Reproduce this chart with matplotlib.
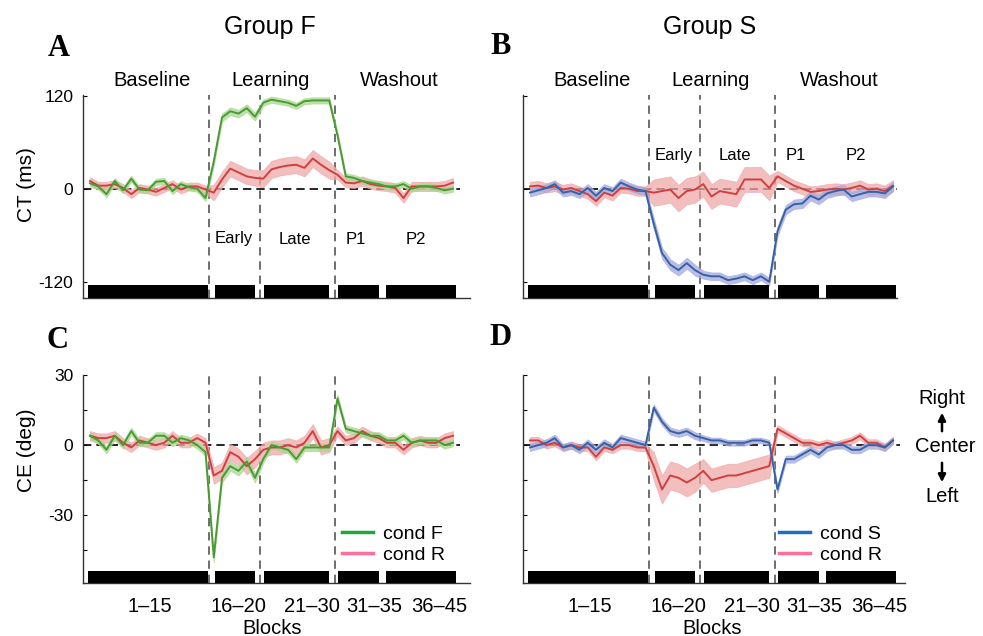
import matplotlib
matplotlib.use('Agg')
import matplotlib.pyplot as plt
import numpy as np

plt.rcParams['font.family'] = ['Liberation Sans', 'DejaVu Sans']

W, H = 983, 636

# ---- data ----
blocks = np.arange(1, 46)
phase_len = [15, 6, 9, 15]   # points in baseline / early / late / washout

ct_F_condF = [7, 3, -7, 10, -2, 13, -1, -2, 9, 10, -3, 6, 2, 0, -12,
              35, 92, 100, 97, 104, 93,
              111, 115, 113, 111, 107, 113, 114, 114, 114,
              69, 16, 14, 10, 8, 6, 3, 3, 6, 0, 3, 3, 1, -2, 0]
ct_F_condR = [10, 4, 4, 6, 1, -7, 1, -1, -4, 1, 6, -1, 3, 3, -1,
              -5, 12, 26, 21, 16, 14,
              13, 25, 28, 30, 31, 27, 39, 31, 24,
              18, 8, 7, 10, 6, 4, 3, 1, -12, 3, 3, 3, 3, 4, 8]
ct_S_condS = [-5, -2, 1, 6, -5, -3, -7, 1, -9, 1, -3, 8, 3, -1, -3,
              -45, -83, -98, -105, -96, -105,
              -111, -113, -113, -118, -116, -113, -118, -113, -120,
              -55, -27, -20, -19, -9, -14, -6, -3, -1, -10, -7, -4, -4, -6, 3]
ct_S_condR = [3, 4, 1, 3, -1, 1, -3, -7, -16, -5, -9, 1, 0, -3, -3,
              -5, -3, -1, -12, -3, -1,
              6, -10, -3, -5, -7, 12, 12, 12, 1,
              16, 10, 4, 0, -4, -3, -1, 0, -1, 1, 4, -1, 0, -3, 4]
ce_F_condF = [4, 2, -2, 4, 0, 6, 1, 1, 4, 4, 1, 3, 2, 0, -3,
              -48, -14, -9, -11, -7, -14,
              -6, 0, -1, -2, -6, -1, -1, -1, -1,
              20, 7, 6, 5, 4, 4, 2, 2, 4, 1, 2, 2, 2, 0, 1]
ce_F_condR = [4, 3, 3, 4, 1, -1, 2, 1, 0, 1, 4, 1, 1, 3, 1,
              -13, -11, -3, -5, -9, -6,
              -2, -1, -1, 0, -1, 1, 6, -1, 0,
              6, 2, 3, 6, 4, 3, 1, 1, -2, 1, 2, 1, 1, 3, 4]
ce_S_condS = [-1, 0, 1, 3, -1, 0, -2, 1, -2, 1, -1, 3, 2, 1, 0,
              16, 10, 6, 5, 6, 4,
              3, 2, 2, 1, 1, 1, 2, 2, 1,
              -19, -6, -6, -4, -2, -4, -1, 0, 0, -2, -2, 0, 0, -1, 2]
ce_S_condR = [2, 2, 0, 1, -1, 0, -1, -1, -5, -1, -2, 0, 0, -1, -1,
              -9, -19, -13, -14, -16, -14,
              -11, -15, -14, -13, -13, -12, -11, -10, -9,
              7, 5, 3, 1, 1, 0, 1, 0, 1, 2, 4, 1, 1, -1, 2]

# SEM per phase (baseline, early, late, washout)
sem_ct_F_condF = [4, 5, 4, 4]
sem_ct_F_condR = [5, 10, 11, 6]
sem_ct_S_condS = [5, 7, 5, 6]
sem_ct_S_condR = [6, 17, 16, 7]
sem_ce_F_condF = [1.5, 2, 1.5, 1.5]
sem_ce_F_condR = [2, 3.5, 3, 2]
sem_ce_S_condS = [1.5, 1.5, 1.2, 1.5]
sem_ce_S_condR = [1.5, 6, 5, 1.5]

phase_lines = [15.4, 21.55, 30.65]
bar_starts = [0.75, 16.1, 22.1, 31.05, 36.9]
bar_ends = [15.25, 21.0, 30.0, 36.0, 45.4]
block_labels = ['1\u201315', '16\u201320', '21\u201330', '31\u201335', '36\u201345']
block_label_pos = [8.3, 19.0, 27.9, 35.5, 43.3]
phase_names = ['Baseline', 'Learning', 'Washout']
sub_names = ['Early', 'Late', 'P1', 'P2']

GREEN, GREEN_BAND = '#4b9a33', '#a9d890'
RED, RED_BAND = '#d0403f', '#f0a8a8'
BLUE, BLUE_BAND = '#3562a6', '#a3a9de'


def expand(sem):
    return np.repeat(sem, phase_len)


fig = plt.figure(figsize=(W / 100, H / 100), dpi=100)


def make_ax(x0, x1, y0, y1):
    ax = fig.add_axes([x0 / W, 1 - y1 / H, (x1 - x0) / W, (y1 - y0) / H])
    # data pitch: 8.25 px per block, block 1 sits 7 px right of the spine
    ax.set_xlim(1 - 7 / 8.25, 1 - 7 / 8.25 + (x1 - x0) / 8.25)
    for s in ['top', 'right']:
        ax.spines[s].set_visible(False)
    for s in ['left', 'bottom']:
        ax.spines[s].set_color('#333333')
        ax.spines[s].set_linewidth(1.0)
    ax.tick_params(axis='y', direction='in', length=3, labelsize=12.5, pad=7)
    ax.tick_params(axis='x', length=0)
    return ax


def draw_panel(ax, main, main_sem, main_col, main_band, other, other_sem, ylim, bar_top):
    ax.set_ylim(*ylim)
    ax.hlines(0, ax.get_xlim()[0], 45.8, colors='black', linestyles=(0, (5, 3)), lw=1.2, zorder=1)
    for xv in phase_lines:
        ax.axvline(xv, color='#555555', ls=(0, (5, 3.5)), lw=1.2, zorder=1)
    for data, sem, col, band in [(other, other_sem, RED, RED_BAND), (main, main_sem, main_col, main_band)]:
        d = np.array(data, float)
        e = expand(sem)
        ax.fill_between(blocks, d - e, d + e, color=band, alpha=0.75, lw=0.6, edgecolor=band, zorder=2)
        ax.plot(blocks, d, color=col, lw=1.4, zorder=3)
    for s, e in zip(bar_starts, bar_ends):
        ax.fill_between([s, e], ylim[0], bar_top, color='black', lw=0, zorder=4)


axA = make_ax(83, 470, 95, 298)
axB = make_ax(523, 897, 95, 298)
axC = make_ax(83, 470, 375, 583)
axD = make_ax(523, 905, 375, 583)

draw_panel(axA, ct_F_condF, sem_ct_F_condF, GREEN, GREEN_BAND, ct_F_condR, sem_ct_F_condR, (-141, 121), -124)
draw_panel(axB, ct_S_condS, sem_ct_S_condS, BLUE, BLUE_BAND, ct_S_condR, sem_ct_S_condR, (-141, 121), -124)
draw_panel(axC, ce_F_condF, sem_ce_F_condF, GREEN, GREEN_BAND, ce_F_condR, sem_ce_F_condR, (-59, 30), -54)
draw_panel(axD, ce_S_condS, sem_ce_S_condS, BLUE, BLUE_BAND, ce_S_condR, sem_ce_S_condR, (-59, 30), -54)

for ax in [axA, axB]:
    ax.set_yticks([-120, 0, 120])
    ax.set_xticks([])
axA.set_yticklabels(['-120', '0', '120'])
axB.set_yticklabels([])
for ax in [axC, axD]:
    ax.set_yticks([-45, -30, -15, 0, 15, 30])
    ax.set_xticks(block_label_pos)
    ax.set_xticklabels(block_labels, fontsize=14.5)
    ax.tick_params(axis='x', pad=10)
axC.set_yticklabels(['', '-30', '', '0', '', '30'])
axD.set_yticklabels([])

# legends
for ax, col, name in [(axC, '#22a63c', 'cond F'), (axD, '#1f6fc0', 'cond S')]:
    h1, = ax.plot([], [], color=col, lw=2.5)
    h2, = ax.plot([], [], color='#ff6f9a', lw=2.5)
    ax.legend([h1, h2], [name, 'cond R'], loc='center left', bbox_to_anchor=(0.67, 0.185),
              frameon=False, fontsize=14, handlelength=1.6, handletextpad=0.5,
              labelspacing=0.15, borderpad=0, borderaxespad=0)


def ftext(x, y, s, **kw):
    fig.text(x / W, 1 - y / H, s, ha='center', va='center', **kw)


ftext(270, 27, 'Group F', fontsize=18)
ftext(710, 27, 'Group S', fontsize=18)
for x, y, s in [(59, 49, 'A'), (501, 47, 'B'), (58, 340, 'C'), (500, 337, 'D')]:
    ftext(x, y, s, fontsize=22, fontweight='bold', family='Liberation Serif')

for off in [0, 440]:
    for x, s in zip([152, 271, 399], phase_names):
        ftext(x + off, 80, s, fontsize=14.5)
for x, s in zip([234, 295, 356, 416], sub_names):
    ftext(x, 239, s, fontsize=12)
for x, s in zip([674, 735, 796, 856], sub_names):
    ftext(x, 156, s, fontsize=12)

ftext(26, 185, 'CT (ms)', fontsize=15, rotation=90)
ftext(26, 450, 'CE (deg)', fontsize=15, rotation=90)
ftext(272, 628, 'Blocks', fontsize=14.5)
ftext(712, 628, 'Blocks', fontsize=14.5)

ftext(942, 398, 'Right', fontsize=14.5)
ftext(945, 447, 'Center', fontsize=14.5)
ftext(942, 496, 'Left', fontsize=14.5)
fig.add_artist(matplotlib.patches.FancyArrowPatch((942 / W, 1 - 434 / H), (942 / W, 1 - 410 / H),
               transform=fig.transFigure, arrowstyle='-|>', mutation_scale=11, lw=1.8, color='black'))
fig.add_artist(matplotlib.patches.FancyArrowPatch((942 / W, 1 - 460 / H), (942 / W, 1 - 485 / H),
               transform=fig.transFigure, arrowstyle='-|>', mutation_scale=11, lw=1.8, color='black'))

fig.savefig('out.png', dpi=100)
